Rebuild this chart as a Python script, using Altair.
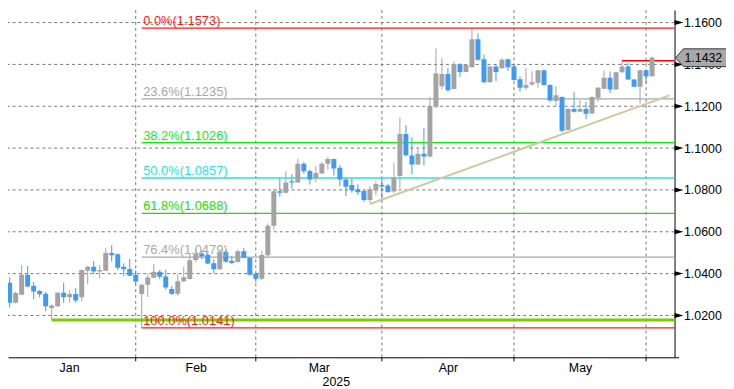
import altair as alt
import pandas as pd

# ---------------- data ----------------
dates = [
    "Jan 2", "Jan 3", "Jan 6", "Jan 7", "Jan 8", "Jan 9", "Jan 10", "Jan 13", "Jan 14", "Jan 15",
    "Jan 16", "Jan 17", "Jan 20", "Jan 21", "Jan 22", "Jan 23", "Jan 24", "Jan 27", "Jan 28", "Jan 29",
    "Jan 30", "Jan 31",
    "Feb 3", "Feb 4", "Feb 5", "Feb 6", "Feb 7", "Feb 10", "Feb 11", "Feb 12", "Feb 13", "Feb 14",
    "Feb 17", "Feb 18", "Feb 19", "Feb 20", "Feb 21", "Feb 24", "Feb 25", "Feb 26", "Feb 27", "Feb 28",
    "Mar 3", "Mar 4", "Mar 5", "Mar 6", "Mar 7", "Mar 10", "Mar 11", "Mar 12", "Mar 13", "Mar 14",
    "Mar 17", "Mar 18", "Mar 19", "Mar 20", "Mar 21", "Mar 24", "Mar 25", "Mar 26", "Mar 27", "Mar 28",
    "Mar 31",
    "Apr 1", "Apr 2", "Apr 3", "Apr 4", "Apr 7", "Apr 8", "Apr 9", "Apr 10", "Apr 11", "Apr 14",
    "Apr 15", "Apr 16", "Apr 17", "Apr 18", "Apr 21", "Apr 22", "Apr 23", "Apr 24", "Apr 25", "Apr 28",
    "Apr 29", "Apr 30",
    "May 1", "May 2", "May 5", "May 6", "May 7", "May 8", "May 9", "May 12", "May 13", "May 14",
    "May 15", "May 16", "May 19", "May 20", "May 21", "May 22", "May 23", "May 26", "May 27", "May 28",
    "May 29", "May 30", "Jun 2",
]
opens = [
    1.0356, 1.0261, 1.0299, 1.0394, 1.0342, 1.0317, 1.0304, 1.0236, 1.0244, 1.0309,
    1.0287, 1.0303, 1.0287, 1.0414, 1.0433, 1.0410, 1.0414, 1.0498, 1.0493, 1.0433,
    1.0422, 1.0394,
    1.0302, 1.0347, 1.0380, 1.0409, 1.0386, 1.0327, 1.0304, 1.0364, 1.0374, 1.0465,
    1.0496, 1.0490, 1.0450, 1.0421, 1.0504, 1.0462, 1.0455, 1.0507, 1.0476, 1.0399,
    1.0375, 1.0488, 1.0629, 1.0794, 1.0786, 1.0841, 1.0836, 1.0925, 1.0890, 1.0855,
    1.0878, 1.0925, 1.0948, 1.0906, 1.0850, 1.0823, 1.0803, 1.0795, 1.0752, 1.0797,
    1.0824,
    1.0821, 1.0793, 1.0867, 1.1067, 1.0965, 1.0922, 1.0973, 1.0960, 1.1197, 1.1296,
    1.1354, 1.1283, 1.1401, 1.1364, 1.1387, 1.1520, 1.1425, 1.1315, 1.1390, 1.1382,
    1.1425, 1.1390,
    1.1329, 1.1288, 1.1304, 1.1312, 1.1372, 1.1301, 1.1225, 1.1244, 1.1087, 1.1187,
    1.1174, 1.1187, 1.1165, 1.1241, 1.1284, 1.1336, 1.1280, 1.1362, 1.1390, 1.1328,
    1.1293, 1.1372, 1.1343,
]
highs = [
    1.0381, 1.0313, 1.0441, 1.0436, 1.0361, 1.0323, 1.0312, 1.0252, 1.0312, 1.0356,
    1.0320, 1.0331, 1.0419, 1.0436, 1.0460, 1.0441, 1.0522, 1.0536, 1.0497, 1.0449,
    1.0470, 1.0414,
    1.0351, 1.0399, 1.0446, 1.0418, 1.0419, 1.0341, 1.0399, 1.0433, 1.0496, 1.0520,
    1.0509, 1.0501, 1.0469, 1.0509, 1.0513, 1.0485, 1.0515, 1.0523, 1.0479, 1.0403,
    1.0509, 1.0640, 1.0802, 1.0859, 1.0889, 1.0875, 1.0949, 1.0933, 1.0899, 1.0913,
    1.0933, 1.0957, 1.0949, 1.0919, 1.0859, 1.0855, 1.0827, 1.0797, 1.0818, 1.0842,
    1.0855,
    1.0829, 1.0928, 1.1146, 1.1110, 1.1051, 1.0995, 1.1096, 1.1244, 1.1477, 1.1430,
    1.1382, 1.1414, 1.1405, 1.1400, 1.1573, 1.1548, 1.1446, 1.1392, 1.1399, 1.1430,
    1.1427, 1.1399,
    1.1343, 1.1382, 1.1367, 1.1375, 1.1375, 1.1305, 1.1296, 1.1247, 1.1190, 1.1267,
    1.1230, 1.1220, 1.1247, 1.1292, 1.1371, 1.1367, 1.1365, 1.1414, 1.1406, 1.1330,
    1.1375, 1.1375, 1.1438,
]
lows = [
    1.0238, 1.0257, 1.0297, 1.0335, 1.0277, 1.0286, 1.0220, 1.0178, 1.0240, 1.0260,
    1.0261, 1.0261, 1.0268, 1.0348, 1.0397, 1.0378, 1.0412, 1.0457, 1.0418, 1.0387,
    1.0387, 1.0351,
    1.0141, 1.0288, 1.0378, 1.0374, 1.0323, 1.0298, 1.0294, 1.0359, 1.0372, 1.0454,
    1.0469, 1.0445, 1.0402, 1.0419, 1.0452, 1.0446, 1.0453, 1.0474, 1.0390, 1.0359,
    1.0370, 1.0478, 1.0610, 1.0768, 1.0783, 1.0807, 1.0833, 1.0878, 1.0826, 1.0836,
    1.0876, 1.0898, 1.0868, 1.0818, 1.0771, 1.0787, 1.0777, 1.0744, 1.0737, 1.0775,
    1.0744,
    1.0786, 1.0785, 1.0808, 1.0960, 1.0874, 1.0918, 1.0918, 1.0955, 1.1190, 1.1280,
    1.1270, 1.1281, 1.1340, 1.1362, 1.1385, 1.1418, 1.1312, 1.1313, 1.1320, 1.1380,
    1.1370, 1.1322,
    1.1270, 1.1277, 1.1299, 1.1288, 1.1299, 1.1222, 1.1201, 1.1075, 1.1085, 1.1170,
    1.1172, 1.1138, 1.1163, 1.1222, 1.1282, 1.1264, 1.1278, 1.1360, 1.1326, 1.1291,
    1.1212, 1.1312, 1.1341,
]
closes = [
    1.0261, 1.0307, 1.0394, 1.0339, 1.0315, 1.0301, 1.0244, 1.0247, 1.0309, 1.0287,
    1.0303, 1.0272, 1.0417, 1.0433, 1.0410, 1.0417, 1.0498, 1.0488, 1.0428, 1.0421,
    1.0390, 1.0362,
    1.0347, 1.0382, 1.0409, 1.0385, 1.0334, 1.0304, 1.0364, 1.0383, 1.0464, 1.0496,
    1.0482, 1.0448, 1.0421, 1.0504, 1.0457, 1.0451, 1.0507, 1.0476, 1.0394, 1.0375,
    1.0489, 1.0629, 1.0794, 1.0786, 1.0836, 1.0836, 1.0925, 1.0889, 1.0850, 1.0881,
    1.0925, 1.0948, 1.0903, 1.0850, 1.0815, 1.0799, 1.0789, 1.0752, 1.0803, 1.0828,
    1.0817,
    1.0790, 1.0859, 1.1067, 1.0966, 1.0922, 1.0973, 1.0960, 1.1201, 1.1356, 1.1354,
    1.1277, 1.1401, 1.1364, 1.1398, 1.1520, 1.1422, 1.1315, 1.1390, 1.1364, 1.1422,
    1.1386, 1.1326,
    1.1288, 1.1301, 1.1315, 1.1372, 1.1301, 1.1228, 1.1253, 1.1083, 1.1187, 1.1174,
    1.1187, 1.1164, 1.1244, 1.1289, 1.1336, 1.1280, 1.1362, 1.1390, 1.1328, 1.1293,
    1.1372, 1.1343, 1.1432,
]

month_names = ["Jan", "Feb", "Mar", "Apr", "May"]
month_label_pos = [9.9, 31.0, 51.5, 73.0, 95.0]
month_separators = [21, 41, 62, 84, 106]
year_label = ["2025"]
year_label_pos = [54.4]

fib_names = ["0.0%", "23.6%", "38.2%", "50.0%", "61.8%", "76.4%", "100.0%"]
fib_prices = [1.1573, 1.1235, 1.1026, 1.0857, 1.0688, 1.0479, 1.0141]
fib_start = [22]

price_levels = [1.02, 1.04, 1.06, 1.08, 1.10, 1.12, 1.14, 1.16]
support_price = [1.0178]
support_start = [7]
trend_idx = [60, 109.92]
trend_price = [1.0733, 1.1252]
resist_price = [1.1417]
resist_start = [102]
last_price = [1.1432]

# ---------------- styles / layout ----------------
W, H = 673.7, 351
FONT = "Liberation Sans"
UP, DOWN = "#a3a3a3", "#3d9bf2"
FIB_COLORS = ["#ff1a1a", "#a8a8a8", "#10ee10", "#30dede", "#22dd00", "#a8a8a8", "#ff1a1a"]
XDOM = [0.55, 109.92]
YDOM = [1.0, 1.166]

xs = alt.Scale(domain=XDOM, nice=False, zero=False)
ys = alt.Scale(domain=YDOM, nice=False, zero=False)

candles = pd.DataFrame({
    "idx": list(range(len(opens))),
    "date": dates,
    "open": opens, "high": highs, "low": lows, "close": closes,
})
candles["up"] = [c >= o for o, c in zip(opens, closes)]
candles["lo"] = candles[["open", "close"]].min(axis=1)
candles["hi"] = candles[["open", "close"]].max(axis=1)

fib = pd.DataFrame({"name": fib_names, "price": fib_prices, "start": fib_start * len(fib_names)})
fib["label"] = [f"{n}({p:.4f})" for n, p in zip(fib_names, fib_prices)]

levels = pd.DataFrame({"price": price_levels})
seps = pd.DataFrame({"idx": month_separators})
trend = pd.DataFrame({"idx": trend_idx, "price": trend_price})
support = pd.DataFrame({"price": support_price, "start": support_start})
resist = pd.DataFrame({"price": resist_price, "start": resist_start})
last = pd.DataFrame({"price": last_price, "txt": [f"{p:.4f}" for p in last_price]})
year = pd.DataFrame({"idx": year_label_pos, "txt": year_label})

color_dir = alt.condition("datum.up", alt.value(UP), alt.value(DOWN))
color_fib = alt.Color("name:N", scale=alt.Scale(domain=fib_names, range=FIB_COLORS), legend=None)

x_label_expr = " : ".join(
    f"datum.value == {p} ? '{n}'" for p, n in zip(month_label_pos, month_names)
) + " : ''"

tick_vals = [round(1.0 + 0.01 * i, 2) for i in range(17)]

x_axis = alt.Axis(values=month_label_pos, labelExpr=x_label_expr, ticks=False, grid=False,
                  domainColor="black", domainWidth=1, labelFont=FONT, labelFontSize=12.5,
                  labelColor="black", labelPadding=4, title=None, labelFlush=False,
                  labelOverlap=False)
y_axis = alt.Axis(orient="right", values=tick_vals,
                  labelExpr="(round(datum.value*100) % 2 == 0 && datum.value > 1.005) ? format(datum.value, '.4f') : ''",
                  tickSize=4, tickColor="black", domainColor="black", domainWidth=1,
                  labelPadding=5, labelFont=FONT, labelFontSize=12.5, labelColor="black",
                  grid=False, title=None, labelFlush=False, labelOverlap=False)

X = lambda f: alt.X(f, scale=xs)
Y = lambda f: alt.Y(f, scale=ys)

# the first layer carries both axes; the others leave axis unspecified
wicks = alt.Chart(candles).mark_rule(strokeWidth=1, clip=True).encode(
    x=alt.X("idx:Q", scale=xs, axis=x_axis),
    y=alt.Y("low:Q", scale=ys, axis=y_axis), y2="high:Q", color=color_dir)
bodies = alt.Chart(candles).mark_bar(size=5, clip=True).encode(
    x=X("idx:Q"), y=Y("lo:Q"), y2="hi:Q", color=color_dir)

hgrid = alt.Chart(levels).mark_rule(color="#767676", strokeDash=[3, 3], strokeWidth=1).encode(
    y=Y("price:Q"))
vgrid = alt.Chart(seps).mark_rule(color="#767676", strokeDash=[3, 3], strokeWidth=1).encode(
    x=X("idx:Q"))
septicks = alt.Chart(seps).mark_rule(color="black", strokeWidth=1).encode(
    x=X("idx:Q"), y=alt.value(H), y2=alt.value(H + 4))

fib_lines = alt.Chart(fib).mark_rule(strokeWidth=1.3).encode(
    x=X("start:Q"), x2=alt.value(W), y=Y("price:Q"), color=color_fib)
support_line = alt.Chart(support).mark_rule(color="#7ccc00", strokeWidth=3).encode(
    x=X("start:Q"), x2=alt.value(W), y=Y("price:Q"))
resist_line = alt.Chart(resist).mark_rule(color="#ff0000", strokeWidth=1.5).encode(
    x=X("start:Q"), x2=alt.value(W), y=Y("price:Q"))
trend_line = alt.Chart(trend).mark_line(color="#cdc9a0", strokeWidth=2, clip=True).encode(
    x=X("idx:Q"), y=Y("price:Q"))

fib_text = alt.Chart(fib).mark_text(align="left", baseline="alphabetic", dx=1.5, dy=-3,
                                    font=FONT, fontSize=13).encode(
    x=X("start:Q"), y=Y("price:Q"), text="label:N", color=color_fib)

year_text = alt.Chart(year).mark_text(align="center", baseline="middle", font=FONT,
                                      fontSize=12.5, color="black").encode(
    x=X("idx:Q"), y=alt.value(H + 25), text="txt:N")

pointers = alt.Chart(levels).mark_point(shape="M0,-2.5L9,0L0,2.5Z", size=4, filled=True,
                                        color="black", opacity=1).encode(
    x=alt.value(W), y=Y("price:Q"))

price_box = alt.Chart(last).mark_point(shape="M0,0L8,-9L52,-9L52,9L8,9Z", size=4, filled=True,
                                       fill="#a8a8a8", stroke="#3a3a3a", strokeWidth=1,
                                       opacity=1).encode(
    x=alt.value(W + 1), y=Y("price:Q"))
price_text = alt.Chart(last).mark_text(align="left", baseline="middle", font=FONT,
                                       fontSize=12.5, color="black").encode(
    x=alt.value(W + 10), y=Y("price:Q"), text="txt:N")

chart = alt.layer(
    wicks, hgrid, vgrid, septicks, fib_lines, support_line, trend_line, resist_line,
    bodies, fib_text, year_text, pointers, price_box, price_text,
).properties(
    width=W, height=H,
    padding={"left": 0, "top": 0, "right": 52, "bottom": 30},
    autosize=alt.AutoSizeParams(type="none"),
    background="white",
).configure_view(stroke=None)

chart.save("out.html", embed_options={"renderer": "svg", "actions": False})
